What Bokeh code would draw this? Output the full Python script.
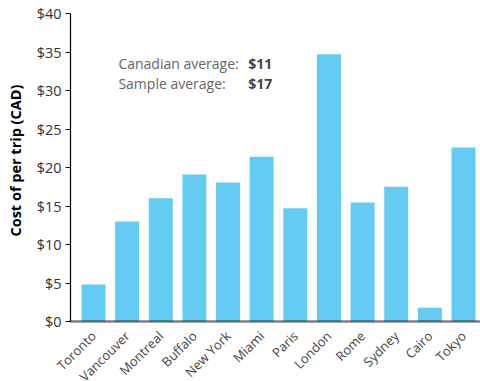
import math
from bokeh.plotting import figure
from bokeh.models import (ColumnDataSource, FixedTicker, NumeralTickFormatter,
                          Label, Range1d)
from bokeh.core.properties import value
from bokeh.embed import file_html
from bokeh.resources import INLINE

cities = ["Toronto", "Vancouver", "Montreal", "Buffalo", "New York", "Miami",
          "Paris", "London", "Rome", "Sydney", "Cairo", "Tokyo"]
costs = [4.8, 13.0, 16.0, 19.1, 18.05, 21.4, 14.7, 34.7, 15.45, 17.5, 1.8, 22.6]
y_ticks = [0, 5, 10, 15, 20, 25, 30, 35, 40]
y_title = "Cost of per trip (CAD)"
canadian_avg = 11
sample_avg = 17

FONT = "Open Sans"

# layout (pixels -> data units)
PX_PER_DOLLAR = 308 / 40.0
PX_PER_SLOT = 410 / 12.189
x_low, x_high = -0.684, 11.505          # extent of the plotting area proper
LEFT_PX, TOP_PX, BOTTOM_PX = 70, 13, 60  # room for the axis texts
x_start = x_low - LEFT_PX / PX_PER_SLOT
y_start = -BOTTOM_PX / PX_PER_DOLLAR
y_end = 40 + TOP_PX / PX_PER_DOLLAR

xs = list(range(len(cities)))
src = ColumnDataSource(dict(x=xs, cost=costs))

p = figure(frame_width=480, frame_height=381, output_backend="svg",
           toolbar_location=None,
           x_range=Range1d(x_start, x_high), y_range=Range1d(y_start, y_end),
           min_border_left=0, min_border_right=0, min_border_top=0,
           min_border_bottom=0)
p.outline_line_color = None
p.xgrid.visible = False
p.ygrid.visible = False
p.background_fill_color = "white"
p.border_fill_color = "white"

p.vbar(x="x", top="cost", bottom=0, width=0.713, source=src,
       fill_color="#64CBF2", line_color=None)

# x axis: baseline at $0 with rotated city names
xa = p.xaxis[0]
xa.fixed_location = 0
xa.bounds = (x_low, x_high)
xa.ticker = FixedTicker(ticks=xs)
xa.major_label_overrides = {i: c for i, c in enumerate(cities)}
xa.major_label_orientation = math.pi / 4
xa.axis_line_color = "black"
xa.axis_line_alpha = 0.5
xa.axis_line_width = 2.5
xa.major_tick_line_color = None
xa.minor_tick_line_color = None
xa.major_label_text_font = FONT
xa.major_label_text_font_size = "13px"
xa.major_label_text_color = "#444444"
xa.major_label_standoff = 6

# y axis
ya = p.yaxis[0]
ya.fixed_location = x_low
ya.bounds = (0, 40)
ya.ticker = FixedTicker(ticks=y_ticks)
ya.formatter = NumeralTickFormatter(format="$0")
ya.axis_line_color = "black"
ya.axis_line_width = 1.2
ya.major_tick_line_color = "black"
ya.major_tick_out = 5
ya.major_tick_in = 0
ya.minor_tick_line_color = None
ya.major_label_text_font = FONT
ya.major_label_text_font_size = "14.5px"
ya.major_label_text_color = "#333333"
ya.major_label_standoff = 4

# y axis title
p.text(x=[x_low - 55 / PX_PER_SLOT], y=[20.9], text=[y_title],
       angle=math.pi / 2, text_align="center", text_baseline="middle",
       text_font=value(FONT), text_font_size="14.5px",
       text_font_style="bold", text_color="black")

# annotations
for txt, yy in [("Canadian average:", 33.5), ("Sample average:", 30.9)]:
    p.add_layout(Label(x=0.74, y=yy, text=txt, text_font=FONT,
                       text_font_size="14px", text_color="#666666",
                       text_baseline="alphabetic"))
for val, yy in [(canadian_avg, 33.5), (sample_avg, 30.9)]:
    p.add_layout(Label(x=4.6, y=yy, text=f"${val}", text_font=FONT,
                       text_font_size="14px", text_font_style="bold",
                       text_color="#444444", text_baseline="alphabetic"))

open("out.html", "w").write(file_html(p, INLINE))
